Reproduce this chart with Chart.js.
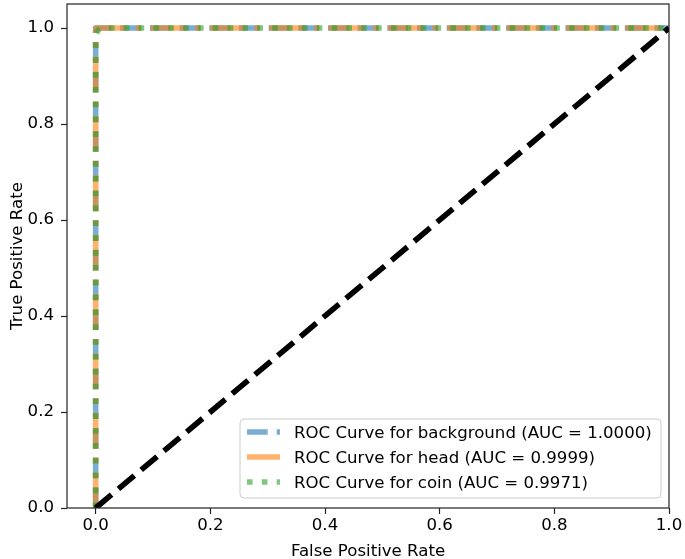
<!DOCTYPE html>
<html>
<head>
<meta charset="utf-8">
<script src="https://cdn.jsdelivr.net/npm/chart.js@4"></script>
<style>
  html, body { margin: 0; padding: 0; background: #fff; }
  #wrap { width: 685px; height: 559px; }
</style>
</head>
<body>
<div id="wrap"><canvas id="rocChart"></canvas></div>
<script>
// ROC data
const tickValues = [0, 0.2, 0.4, 0.6, 0.8, 1.0]
const bgFpr = [0, 0, 1]
const bgTpr = [0, 1, 1]
const headFpr = [0, 0, 0.001, 1]
const headTpr = [0, 0.995, 1, 1]
const coinFpr = [0, 0, 0.004, 0.012, 1]
const coinTpr = [0, 0.985, 0.995, 1, 1]
const chanceFpr = [0, 1]
const chanceTpr = [0, 1]
const seriesLabels = [
  'ROC Curve for background (AUC = 1.0000)',
  'ROC Curve for head (AUC = 0.9999)',
  'ROC Curve for coin (AUC = 0.9971)'
]
const xTitle = 'False Positive Rate'
const yTitle = 'True Positive Rate'

const FONT = "'DejaVu Sans', sans-serif"
const FSIZE = 16.6
const LW = 5.6
const blue = 'rgba(31, 119, 180, 0.6)'
const orange = 'rgba(255, 127, 14, 0.6)'
const green = 'rgba(44, 160, 44, 0.6)'
// matplotlib style dash patterns, scaled by line width
const dashBlue = [3.7 * LW, 1.6 * LW]
const dashOrange = [6.4 * LW, 1.6 * LW, 1 * LW, 1.6 * LW]
const dashGreen = [1 * LW, 1.65 * LW]

const toPoints = (xs, ys) => xs.map((x, i) => ({ x: x, y: ys[i] }))

const lineSet = (label, xs, ys, color, dash, order) => ({
  label: label,
  data: toPoints(xs, ys),
  showLine: true,
  borderColor: color,
  backgroundColor: color,
  borderWidth: LW,
  borderDash: dash,
  borderJoinStyle: 'round',
  borderCapStyle: 'butt',
  pointRadius: 0,
  pointHoverRadius: 0,
  tension: 0,
  clip: 0,
  order: order
})

// frame, axis titles and legend box
const decorations = {
  id: 'decorations',
  afterDatasetsDraw(chart) {
    const ctx = chart.ctx
    const a = chart.chartArea
    ctx.save()
    ctx.strokeStyle = '#222'
    ctx.lineWidth = 1.2
    ctx.setLineDash([])
    ctx.strokeRect(a.left, a.top, a.right - a.left, a.bottom - a.top)

    // legend
    const lx = 240, ly = 419, lw = 421, lh = 79
    ctx.beginPath()
    ctx.roundRect(lx, ly, lw, lh, 4)
    ctx.fillStyle = 'rgba(255,255,255,0.8)'
    ctx.fill()
    ctx.strokeStyle = '#cccccc'
    ctx.lineWidth = 1
    ctx.stroke()

    const handles = [[blue, dashBlue], [orange, dashOrange], [green, dashGreen]]
    ctx.font = FSIZE + 'px ' + FONT
    ctx.textBaseline = 'alphabetic'
    ctx.textAlign = 'left'
    seriesLabels.forEach((txt, i) => {
      const base = 438 + i * 25
      const y = base - 6
      ctx.beginPath()
      ctx.strokeStyle = handles[i][0]
      ctx.lineWidth = LW
      ctx.lineCap = 'butt'
      ctx.setLineDash(handles[i][1])
      ctx.moveTo(247, y)
      ctx.lineTo(280, y)
      ctx.stroke()
      ctx.setLineDash([])
      ctx.fillStyle = '#000'
      ctx.fillText(txt, 294, base)
    })

    // axis titles
    ctx.fillStyle = '#000'
    ctx.textAlign = 'center'
    ctx.fillText(xTitle, (a.left + a.right) / 2, 556)
    ctx.translate(22, (a.top + a.bottom) / 2)
    ctx.rotate(-Math.PI / 2)
    ctx.fillText(yTitle, 0, 0)
    ctx.restore()
  }
}

const setTicks = scale => { scale.ticks = tickValues.map(v => ({ value: v })) }
const fmt = v => Number(v).toFixed(1)

new Chart(document.getElementById('rocChart'), {
  type: 'scatter',
  data: {
    datasets: [
      lineSet('chance', chanceFpr, chanceTpr, '#000', dashBlue, 0),
      lineSet(seriesLabels[2], coinFpr, coinTpr, green, dashGreen, 1),
      lineSet(seriesLabels[1], headFpr, headTpr, orange, dashOrange, 2),
      lineSet(seriesLabels[0], bgFpr, bgTpr, blue, dashBlue, 3)
    ]
  },
  options: {
    responsive: true,
    maintainAspectRatio: false,
    animation: false,
    layout: { padding: { top: 4, right: 16, left: 0, bottom: 0 } },
    plugins: {
      legend: { display: false },
      tooltip: { enabled: false }
    },
    scales: {
      x: {
        type: 'linear',
        min: -0.05,
        max: 1.0,
        afterBuildTicks: setTicks,
        afterFit: s => { s.height = 51; s.paddingLeft = 0; s.paddingRight = 0 },
        border: { display: false },
        grid: { drawOnChartArea: false, drawTicks: true, tickLength: 6, tickWidth: 1.2, tickColor: '#222' },
        ticks: { color: '#000', font: { family: FONT, size: FSIZE }, padding: 2, maxRotation: 0, callback: fmt }
      },
      y: {
        type: 'linear',
        min: 0,
        max: 1.05,
        afterBuildTicks: setTicks,
        afterFit: s => { s.width = 67; s.paddingTop = 0; s.paddingBottom = 0 },
        border: { display: false },
        grid: { drawOnChartArea: false, drawTicks: true, tickLength: 6, tickWidth: 1.2, tickColor: '#222' },
        ticks: { color: '#000', font: { family: FONT, size: FSIZE }, padding: 7, callback: fmt }
      }
    }
  },
  plugins: [decorations]
})
</script>
</body>
</html>
